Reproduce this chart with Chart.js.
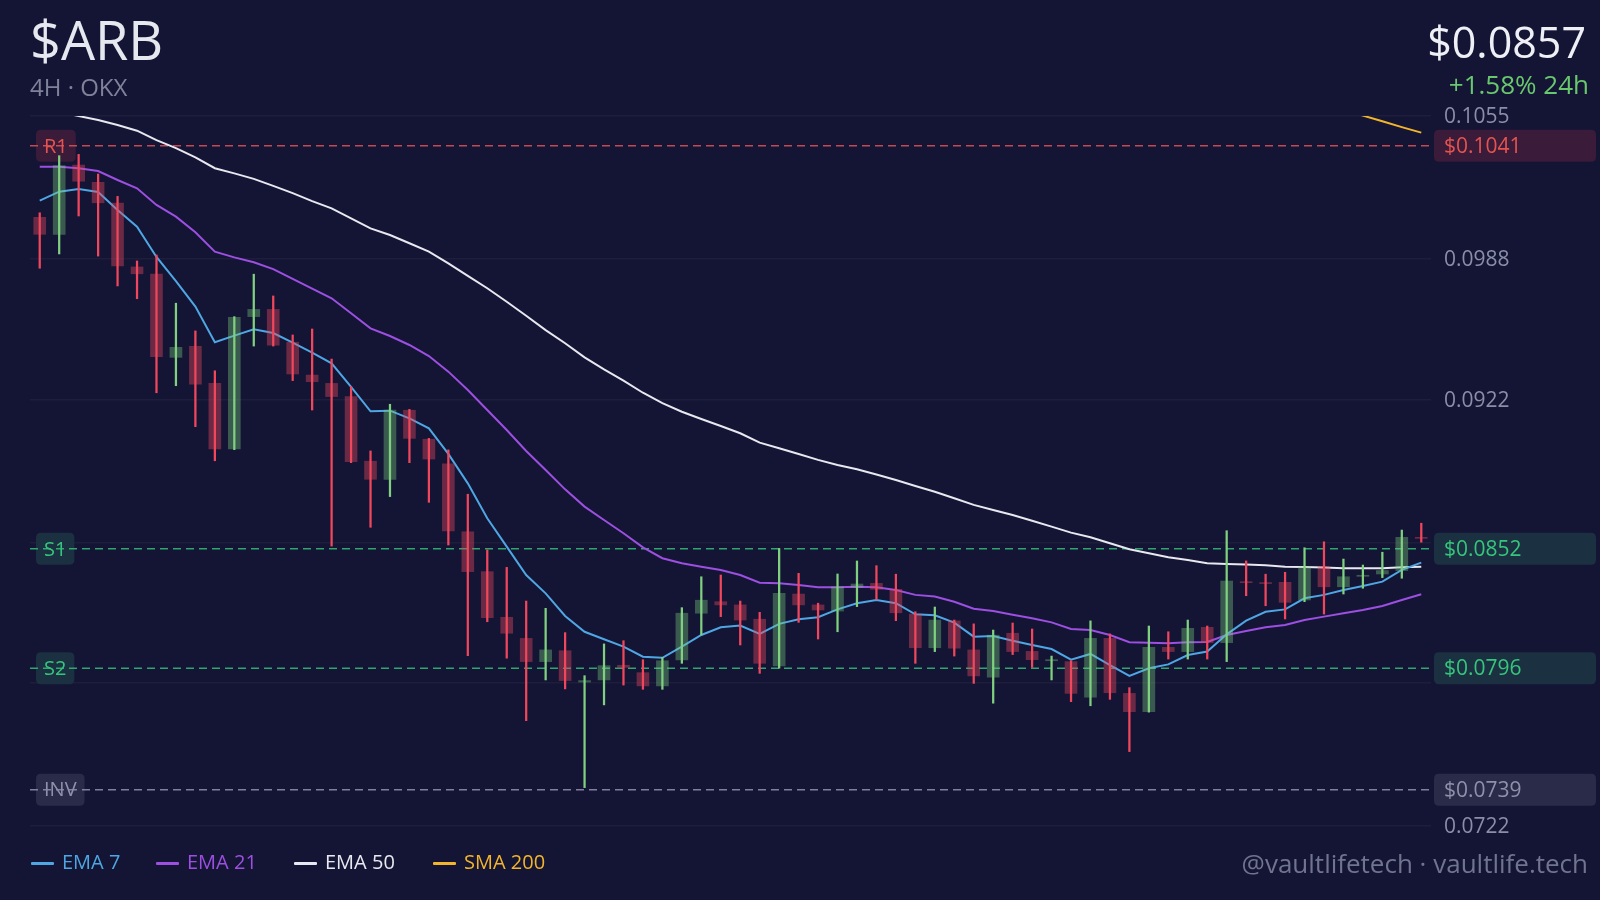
<!DOCTYPE html>
<html>
<head>
<meta charset="utf-8">
<script src="https://cdn.jsdelivr.net/npm/chart.js@4.4.1/dist/chart.umd.min.js"></script>
<style>
html,body{margin:0;padding:0;background:#141434;width:1600px;height:900px;overflow:hidden;font-family:'Open Sans',sans-serif;}
#wrap{position:relative;width:1600px;height:900px;}
canvas{position:absolute;left:0;top:0;}
.t{position:absolute;white-space:nowrap;line-height:1;}
.sw{position:absolute;width:23px;height:3px;border-radius:1px;}
</style>
</head>
<body>
<div id="wrap">
  <canvas id="c" width="1600" height="900"></canvas>
  <div class="t" style="left:30px;top:12px;font-size:54px;color:#e6e8f0;">$ARB</div>
  <div class="t" style="left:30px;top:75px;font-size:24px;color:#7f8399;">4H · OKX</div>
  <div class="t" style="right:14px;top:20px;font-size:43px;color:#eef0f6;">$0.0857</div>
  <div class="t" style="right:11px;top:71px;font-size:26px;color:#69c76e;">+1.58% 24h</div>
  <div class="t" style="right:12px;top:850px;font-size:26px;color:#70748f;">@vaultlifetech · vaultlife.tech</div>
  <div id="legend"></div>
</div>
<script>
// ---------- data ----------
const OPEN = [0.10075,0.09995,0.10320,0.10239,0.10141,0.09842,0.09808,0.09418,0.09470,0.09296,
0.08988,0.09609,0.09643,0.09489,0.09335,0.09296,0.09234,0.08931,0.08846,0.09170,
0.09034,0.08919,0.08600,0.08413,0.08199,0.08100,0.07991,0.08042,0.07895,0.07905,
0.07974,0.07939,0.07877,0.07999,0.08218,0.08272,0.08257,0.08190,0.07971,0.08308,
0.08257,0.08228,0.08340,0.08358,0.08330,0.08214,0.08056,0.08182,0.08046,0.07918,
0.08124,0.08039,0.07995,0.07991,0.07824,0.08100,0.07842,0.07756,0.08058,0.08038,
0.08152,0.08080,0.08366,0.08361,0.08363,0.08280,0.08436,0.08342,0.08391,0.08402,
0.08418,0.08574];
const HIGH = [0.10096,0.10364,0.10370,0.10278,0.10173,0.09870,0.09898,0.09672,0.09542,0.09355,
0.09609,0.09808,0.09706,0.09523,0.09551,0.09410,0.09280,0.08979,0.09198,0.09174,
0.09038,0.08984,0.08776,0.08515,0.08433,0.08275,0.08241,0.08127,0.07925,0.08074,
0.08089,0.08000,0.08011,0.08244,0.08389,0.08397,0.08275,0.08222,0.08522,0.08405,
0.08265,0.08402,0.08463,0.08441,0.08401,0.08225,0.08247,0.08186,0.08168,0.08139,
0.08172,0.08144,0.08017,0.07995,0.08182,0.08121,0.07869,0.08158,0.08131,0.08186,
0.08158,0.08605,0.08463,0.08401,0.08410,0.08525,0.08553,0.08472,0.08444,0.08504,
0.08608,0.08640];
const LOW = [0.09836,0.09903,0.10081,0.09893,0.09753,0.09693,0.09252,0.09285,0.09093,0.08933,
0.08985,0.09471,0.09471,0.09309,0.09171,0.08533,0.08924,0.08621,0.08765,0.08924,
0.08738,0.08538,0.08019,0.08178,0.08007,0.07714,0.07905,0.07863,0.07400,0.07788,
0.07881,0.07861,0.07861,0.07983,0.08116,0.08202,0.08069,0.07936,0.07960,0.08175,
0.08097,0.08131,0.08249,0.08283,0.08183,0.07983,0.08038,0.08017,0.07889,0.07796,
0.08024,0.07964,0.07905,0.07803,0.07784,0.07814,0.07569,0.07754,0.08003,0.08003,
0.08003,0.07991,0.08300,0.08253,0.08191,0.08272,0.08214,0.08308,0.08335,0.08385,
0.08382,0.08551];
const CLOSE = [0.09995,0.10317,0.10244,0.10143,0.09847,0.09810,0.09421,0.09465,0.09292,0.08988,
0.09606,0.09643,0.09475,0.09340,0.09304,0.09234,0.08929,0.08846,0.09171,0.09038,
0.08941,0.08604,0.08413,0.08197,0.08124,0.07991,0.08046,0.07902,0.07902,0.07972,
0.07964,0.07877,0.07995,0.08218,0.08279,0.08257,0.08186,0.07983,0.08311,0.08257,
0.08233,0.08342,0.08355,0.08330,0.08220,0.08056,0.08186,0.08054,0.07924,0.08115,
0.08038,0.08000,0.08000,0.07842,0.08100,0.07845,0.07756,0.08058,0.08038,0.08147,
0.08080,0.08369,0.08361,0.08357,0.08269,0.08436,0.08342,0.08389,0.08396,0.08418,
0.08574,0.08569];
const EMA7 = [0.10153,0.10195,0.10208,0.10194,0.10109,0.10031,0.09889,0.09776,0.09656,0.09489,
0.09520,0.09550,0.09532,0.09487,0.09440,0.09390,0.09280,0.09165,0.09168,0.09132,
0.09085,0.08965,0.08827,0.08663,0.08530,0.08397,0.08311,0.08205,0.08131,0.08096,
0.08061,0.08014,0.08009,0.08061,0.08116,0.08152,0.08160,0.08121,0.08168,0.08190,
0.08199,0.08236,0.08265,0.08280,0.08265,0.08213,0.08208,0.08174,0.08108,0.08111,
0.08089,0.08069,0.08050,0.08000,0.08027,0.07975,0.07924,0.07960,0.07978,0.08022,
0.08038,0.08119,0.08183,0.08225,0.08236,0.08288,0.08304,0.08327,0.08346,0.08366,
0.08421,0.08455];
const EMA21 = [0.10312,0.10312,0.10305,0.10292,0.10250,0.10211,0.10133,0.10078,0.10005,0.09914,
0.09887,0.09864,0.09832,0.09786,0.09740,0.09695,0.09625,0.09554,0.09518,0.09476,
0.09424,0.09351,0.09265,0.09171,0.09077,0.08979,0.08890,0.08799,0.08718,0.08655,
0.08593,0.08527,0.08476,0.08452,0.08436,0.08421,0.08397,0.08361,0.08358,0.08350,
0.08340,0.08340,0.08342,0.08340,0.08327,0.08304,0.08296,0.08272,0.08239,0.08228,
0.08211,0.08194,0.08175,0.08144,0.08139,0.08116,0.08082,0.08080,0.08077,0.08082,
0.08083,0.08116,0.08135,0.08152,0.08163,0.08186,0.08202,0.08218,0.08233,0.08252,
0.08280,0.08307];
const EMA50 = [0.10597,0.10569,0.10550,0.10531,0.10508,0.10481,0.10437,0.10399,0.10356,0.10305,
0.10281,0.10255,0.10222,0.10188,0.10151,0.10117,0.10070,0.10023,0.09992,0.09953,
0.09914,0.09859,0.09800,0.09742,0.09679,0.09613,0.09546,0.09484,0.09418,0.09362,
0.09309,0.09252,0.09203,0.09163,0.09129,0.09096,0.09062,0.09018,0.08992,0.08965,
0.08937,0.08913,0.08893,0.08869,0.08843,0.08815,0.08788,0.08757,0.08726,0.08702,
0.08679,0.08652,0.08624,0.08596,0.08574,0.08546,0.08518,0.08499,0.08480,0.08468,
0.08452,0.08449,0.08446,0.08443,0.08436,0.08435,0.08432,0.08429,0.08429,0.08429,
0.08434,0.08436];
const SMA200 = [...Array(66).fill(null), 0.10604,0.10578,0.10552,0.10525,0.10498,0.10472];
const LABELS = OPEN.map((_, i) => String(i + 1));

const Y_TICKS = [0.1055, 0.0988, 0.0922, 0.0855, 0.0789, 0.0722];
const LEVEL_NAMES = ['R1', 'S1', 'S2', 'INV'];
const LEVEL_VALUES = [0.1041, 0.0852, 0.0796, 0.0739];
const LEGEND_NAMES = ['EMA 7', 'EMA 21', 'EMA 50', 'SMA 200'];

// ---------- styles ----------
const FONT = "'Open Sans', sans-serif";
const UP_BODY = 'rgba(120,205,125,0.38)', DN_BODY = 'rgba(236,72,92,0.40)';
const UP_WICK = '#7fd07f', DN_WICK = '#f0475c';
const LINE_COLORS = ['#4ea6e3', '#9c4fe0', '#e8e8f0', '#f3b52c'];
const LEVEL_STYLE = [
  {line:'rgba(226,84,88,0.85)', text:'#e5534f', box:'#3a1b39'},
  {line:'rgba(52,190,122,0.85)', text:'#36c57c', box:'#1b3040'},
  {line:'rgba(52,190,122,0.85)', text:'#36c57c', box:'#1b3040'},
  {line:'rgba(138,140,168,0.9)', text:'#8e91aa', box:'#2a2b49'}
];
const isUp = i => CLOSE[i] >= OPEN[i];
const nearLevel = v => LEVEL_VALUES.some(l => Math.abs(l - v) < 0.0008);

// legend (html)
const LEG_X = [31, 156, 294, 433];
const legend = document.getElementById('legend');
LEGEND_NAMES.forEach((n, i) => {
  const s = document.createElement('div');
  s.className = 'sw';
  s.style.left = LEG_X[i] + 'px'; s.style.top = '862px'; s.style.background = LINE_COLORS[i];
  legend.appendChild(s);
  const t = document.createElement('div');
  t.className = 't';
  t.style.left = (LEG_X[i] + 31) + 'px'; t.style.top = '852px';
  t.style.fontSize = '20px'; t.style.color = LINE_COLORS[i];
  t.textContent = n;
  legend.appendChild(t);
});

function rr(ctx, x, y, w, h, r) {
  ctx.beginPath();
  ctx.moveTo(x + r, y);
  ctx.lineTo(x + w - r, y); ctx.quadraticCurveTo(x + w, y, x + w, y + r);
  ctx.lineTo(x + w, y + h - r); ctx.quadraticCurveTo(x + w, y + h, x + w - r, y + h);
  ctx.lineTo(x + r, y + h); ctx.quadraticCurveTo(x, y + h, x, y + h - r);
  ctx.lineTo(x, y + r); ctx.quadraticCurveTo(x, y, x + r, y);
  ctx.closePath();
}

const levelPlugin = {
  id: 'levels',
  beforeDatasetsDraw(chart) {
    const ctx = chart.ctx, a = chart.chartArea, ys = chart.scales.y;
    ctx.save();
    LEVEL_VALUES.forEach((v, i) => {
      const y = ys.getPixelForValue(v), st = LEVEL_STYLE[i];
      ctx.font = '20px ' + FONT;
      const w = ctx.measureText(LEVEL_NAMES[i]).width + 16;
      ctx.fillStyle = st.box;
      rr(ctx, 36, y - 16, w, 32, 5); ctx.fill();
      ctx.fillStyle = st.text; ctx.textBaseline = 'middle'; ctx.textAlign = 'left';
      ctx.fillText(LEVEL_NAMES[i], 44, y + 1);
      ctx.setLineDash([8, 5]);
      ctx.lineWidth = 1.5; ctx.strokeStyle = st.line;
      ctx.beginPath(); ctx.moveTo(a.left, y); ctx.lineTo(a.right, y); ctx.stroke();
      ctx.setLineDash([]);
    });
    ctx.restore();
  },
  afterDraw(chart) {
    const ctx = chart.ctx, ys = chart.scales.y;
    ctx.save();
    LEVEL_VALUES.forEach((v, i) => {
      const y = ys.getPixelForValue(v), st = LEVEL_STYLE[i];
      ctx.fillStyle = st.box;
      rr(ctx, 1434, y - 16, 162, 32, 5); ctx.fill();
      ctx.font = '21px ' + FONT;
      ctx.fillStyle = st.text; ctx.textBaseline = 'middle'; ctx.textAlign = 'left';
      ctx.fillText('$' + v.toFixed(4), 1444, y + 1);
    });
    ctx.restore();
  }
};

const lineDs = (data, i) => ({
  type: 'line', data, borderColor: LINE_COLORS[i], borderWidth: 2,
  pointRadius: 0, tension: 0, fill: false, order: 3 + i, spanGaps: false
});

new Chart(document.getElementById('c'), {
  type: 'bar',
  data: {
    labels: LABELS,
    datasets: [
      { data: LOW.map((l, i) => [l, HIGH[i]]), backgroundColor: c => isUp(c.dataIndex) ? UP_WICK : DN_WICK,
        barThickness: 1.6, grouped: false, borderWidth: 0, order: 1 },
      { data: OPEN.map((o, i) => [o, CLOSE[i]]), backgroundColor: c => isUp(c.dataIndex) ? UP_BODY : DN_BODY,
        barThickness: 12, grouped: false, borderWidth: 0, minBarLength: 1, order: 2 },
      lineDs(EMA7, 0), lineDs(EMA21, 1), lineDs(EMA50, 2), lineDs(SMA200, 3)
    ]
  },
  options: {
    responsive: false, devicePixelRatio: 1, animation: false,
    layout: { padding: { left: 30, right: 0, top: 116, bottom: 74 } },
    plugins: { legend: { display: false }, tooltip: { enabled: false } },
    scales: {
      x: { type: 'category', offset: true, display: false },
      y: {
        position: 'right', min: 0.0722, max: 0.1055,
        afterBuildTicks: s => { s.ticks = Y_TICKS.map(v => ({ value: v })); },
        afterFit: s => { s.width = 169; },
        ticks: { color: '#8a8ea6', font: { family: FONT, size: 21 }, padding: 13, labelOffset: 1.5,
                 callback: v => nearLevel(Number(v)) ? '' : Number(v).toFixed(4) },
        grid: { color: 'rgba(255,255,255,0.045)', drawTicks: false, lineWidth: 1.5 },
        border: { display: false }
      }
    }
  },
  plugins: [levelPlugin]
});
</script>
</body>
</html>
